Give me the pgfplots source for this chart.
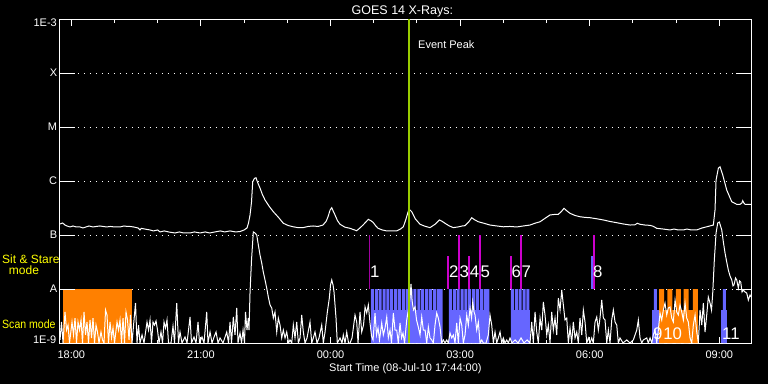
\documentclass[border=0pt]{standalone}
\usepackage{pgfplots}
\pgfplotsset{compat=1.18}
\usepackage{fontspec}
\setmainfont{Liberation Sans}
\definecolor{scanblue}{RGB}{102,102,255}
\definecolor{stareorange}{RGB}{255,128,0}
\definecolor{evmag}{RGB}{204,0,204}
\definecolor{evpurp}{RGB}{160,0,160}
\definecolor{peakgreen}{RGB}{153,204,0}
\definecolor{labyellow}{RGB}{255,255,0}
\newcommand{\tfont}{\fontsize{11}{13}\selectfont}
\newcommand{\nfont}{\fontsize{16.8}{18}\selectfont}
\begin{document}
\begin{tikzpicture}
\fill[black] (0,0) rectangle (768pt,384pt);
\begin{axis}[
  at={(59.8pt,41pt)}, anchor=south west,
  scale only axis, width=691.2pt, height=324pt,
  xmin=-6.2667, xmax=9.733,
  ymode=log, ymin=1e-9, ymax=1e-3,
  log origin y=infty,
  axis line style={white, line width=1pt},
  tick style={white, line width=1pt},
  major tick length=6.5pt, minor tick length=3.5pt,
  ytick style={draw=none},
  xtick={-6,-3,0,3,6,9},
  xticklabels={18:00,21:00,00:00,03:00,06:00,09:00},
  minor xtick={-5,-4,-2,-1,1,2,4,5,7,8},
  ytick={1e-8,1e-7,1e-6,1e-5,1e-4},
  yticklabels={{A\hspace{10pt}},{B\hspace{10pt}},{C\hspace{10pt}},{M\hspace{10pt}},{X\hspace{10pt}}},
  yminorticks=false,
  ymajorgrids=true,
  major grid style={white, line width=1pt, dash pattern=on 1pt off 5pt},
  xticklabel style={font=\tfont, text=white, inner sep=0pt, anchor=north, yshift=-8pt},
  yticklabel style={font=\tfont, text=white, inner sep=0pt, anchor=east, xshift=-2.5pt},
  title={GOES 14 X-Rays:},
  title style={at={(0.5,1)}, anchor=base, yshift=-1pt, xshift=-3pt, inner sep=0pt, font=\fontsize{12.5}{14}\selectfont, text=white},
  xlabel={Start Time (08-Jul-10 17:44:00)},
  xlabel style={at={(0.5,0)}, anchor=north, yshift=-20.3pt, inner sep=0pt, font=\tfont, text=white},
]
% ---- Sit & Stare (orange) and scan (blue) blocks ----
\addplot[fill=stareorange, draw=none] coordinates {(-6.199,1e-9) (-6.199,1e-8) (-4.588,1e-8) (-4.588,1e-9)} -- cycle;
\addplot[fill=scanblue, draw=none] coordinates {(0.949,1e-9) (0.949,4.08e-9) (2.581,4.08e-9) (2.581,1e-9)} -- cycle;
\addplot[fill=scanblue, draw=none] coordinates {(2.743,1e-9) (2.743,4.08e-9) (3.669,4.08e-9) (3.669,1e-9)} -- cycle;
\addplot[fill=scanblue, draw=none] coordinates {(4.178,1e-9) (4.178,4.08e-9) (4.618,4.08e-9) (4.618,1e-9)} -- cycle;
\addplot[fill=scanblue, draw=none] coordinates {(7.435,1e-9) (7.435,4.08e-9) (7.604,4.08e-9) (7.604,1e-9)} -- cycle;
\addplot[fill=stareorange, draw=none] coordinates {(7.604,1e-9) (7.604,4.08e-9) (8.500,4.08e-9) (8.500,1e-9)} -- cycle;
\addplot[fill=scanblue, draw=none] coordinates {(9.032,1e-9) (9.032,4.08e-9) (9.185,4.08e-9) (9.185,1e-9)} -- cycle;
% teeth
\addplot[ybar, bar shift=0pt, bar width=3pt, fill=scanblue, draw=none] coordinates {
(0.970,1e-8) (1.059,1e-8) (1.149,1e-8) (1.238,1e-8) (1.328,1e-8) (1.417,1e-8) (1.507,1e-8) (1.596,1e-8) (1.686,1e-8) (1.775,1e-8)
(1.865,1e-8) (1.954,1e-8) (2.044,1e-8) (2.133,1e-8) (2.223,1e-8) (2.312,1e-8) (2.402,1e-8) (2.491,1e-8) (2.560,1e-8)
(2.775,1e-8) (2.865,1e-8) (2.954,1e-8) (3.044,1e-8) (3.133,1e-8) (3.222,1e-8) (3.312,1e-8) (3.401,1e-8) (3.491,1e-8) (3.580,1e-8) (3.640,1e-8)
(4.211,1e-8) (4.300,1e-8) (4.390,1e-8) (4.479,1e-8) (4.569,1e-8)
(7.520,1e-8) (9.117,1e-8)};
\addplot[ybar, bar shift=0pt, bar width=5pt, fill=stareorange, draw=none] coordinates {
(7.662,1e-8) (7.854,1e-8) (8.049,1e-8) (8.234,1e-8) (8.446,1e-8)};
% ---- short channel ----
\addplot[white, line width=1pt] coordinates {
(-6.262,1.14e-9) (-6.227,2.45e-9) (-6.192,1e-9) (-6.146,3.75e-9) (-6.111,1.74e-9) (-6.076,2.15e-9) (-6.042,1e-9)
(-5.984,2.45e-9) (-5.949,1.41e-9) (-5.914,2.90e-9) (-5.880,1e-9) (-5.845,2.45e-9) (-5.810,1.74e-9) (-5.775,2.67e-9)
(-5.741,1e-9) (-5.706,3.75e-9) (-5.671,1.41e-9) (-5.637,2.45e-9) (-5.602,1e-9) (-5.567,2.67e-9) (-5.532,1.24e-9)
(-5.498,2.90e-9) (-5.463,1e-9) (-5.428,2.15e-9) (-5.394,1.60e-9) (-5.359,1e-9) (-5.313,1.60e-9) (-5.278,1.14e-9)
(-5.243,1e-9) (-5.208,4.08e-9) (-5.174,3.30e-9) (-5.139,1e-9) (-5.104,2.45e-9) (-5.069,1.24e-9) (-5.035,1.90e-9)
(-5.000,1e-9) (-4.942,2.45e-9) (-4.907,1.74e-9) (-4.873,2.67e-9) (-4.838,1e-9) (-4.803,2.90e-9) (-4.769,1e-9)
(-4.734,3.75e-9) (-4.699,2.67e-9) (-4.664,1.14e-9) (-4.630,3.30e-9) (-4.595,1e-9)
(-4.549,2.67e-9) (-4.514,5.50e-9) (-4.479,1e-9) (-4.444,2.15e-9) (-4.410,1e-9) (-4.363,1.41e-9) (-4.317,1e-9)
(-4.248,2.45e-9) (-4.213,1.74e-9) (-4.178,2.67e-9) (-4.144,1e-9) (-4.109,2.45e-9) (-4.074,2.15e-9) (-4.039,2.56e-9)
(-4.005,1.74e-9) (-3.970,1e-9) (-3.924,1.60e-9) (-3.889,1e-9) (-3.854,2.45e-9) (-3.819,1.90e-9) (-3.785,2.67e-9)
(-3.750,1e-9) (-3.692,1e-9) (-3.646,2.06e-9) (-3.611,1e-9) (-3.560,5.50e-9) (-3.519,1e-9) (-3.484,1.60e-9)
(-3.438,1e-9) (-3.368,1.29e-9) (-3.322,1e-9) (-3.252,3.03e-9) (-3.218,1e-9) (-3.160,1.29e-9) (-3.113,1e-9)
(-3.067,2.45e-9) (-3.032,1e-9) (-2.975,1.29e-9) (-2.928,1e-9) (-2.866,3.75e-9) (-2.836,1e-9) (-2.789,1.60e-9)
(-2.743,1e-9) (-2.697,1.29e-9) (-2.650,1.60e-9) (-2.604,1e-9) (-2.558,1.24e-9) (-2.488,1e-9) (-2.403,1.60e-9)
(-2.361,1e-9) (-2.326,2.45e-9) (-2.292,1e-9) (-2.250,3.03e-9) (-2.211,1.41e-9) (-2.171,4.45e-9) (-2.141,1e-9)
(-2.095,1.53e-9)
(-2.060,1e-9) (-2.025,1.74e-9) (-1.991,1e-9) (-1.968,3.75e-9) (-1.933,1.74e-9) (-1.903,2.90e-9) (-1.887,1.74e-9)
(-1.863,8.8e-9) (-1.829,3.44e-8) (-1.787,1.14e-7) (-1.748,1.09e-7) (-1.708,1.0e-7) (-1.671,6.53e-8) (-1.632,4.26e-8)
(-1.593,3.03e-8) (-1.556,2.06e-8) (-1.516,1.47e-8) (-1.477,1.04e-8) (-1.440,7.11e-9) (-1.400,5.06e-9) (-1.361,4.45e-9)
(-1.324,2.90e-9) (-1.285,3.75e-9) (-1.245,1.60e-9) (-1.208,2.90e-9) (-1.169,2.15e-9) (-1.130,1.24e-9) (-1.093,1.74e-9)
(-1.053,1.24e-9) (-1.014,1.60e-9) (-0.972,1e-9) (-0.938,1.14e-9) (-0.898,1e-9) (-0.861,2.15e-9) (-0.822,1.24e-9)
(-0.782,2.45e-9) (-0.745,1e-9) (-0.706,1.24e-9) (-0.667,3.30e-9) (-0.630,1.60e-9) (-0.590,1e-9) (-0.544,1.24e-9)
(-0.475,2.45e-9) (-0.435,1e-9) (-0.398,1.24e-9) (-0.359,1.60e-9) (-0.313,1e-9) (-0.266,1.24e-9) (-0.204,2.15e-9)
(-0.167,1e-9) (-0.127,1.60e-9) (-0.074,3.75e-9) (-0.028,6.8e-9) (0.000,1.19e-8) (0.028,1.47e-8) (0.058,1.19e-8)
(0.081,8.8e-9) (0.104,5.06e-9) (0.127,2.90e-9) (0.157,1e-9) (0.220,1.24e-9) (0.266,1e-9) (0.296,1.41e-9)
(0.336,1e-9) (0.375,1.60e-9) (0.417,1e-9) (0.451,1e-9) (0.498,1.24e-9) (0.567,3.30e-9) (0.606,2.45e-9)
(0.637,1e-9) (0.683,3.75e-9) (0.722,1.60e-9) (0.764,2.15e-9) (0.799,4.64e-9) (0.838,3.59e-9) (0.875,5.06e-9)
(0.914,2.35e-9)
(0.949,1.35e-9) (0.984,1.14e-9) (1.030,3.59e-9) (1.065,1.41e-9) (1.100,1.90e-9) (1.134,1.14e-9) (1.185,2.35e-9)
(1.222,1.41e-9) (1.262,1.90e-9) (1.301,3.03e-9) (1.338,1.24e-9) (1.377,1.74e-9) (1.412,1e-9) (1.454,3.59e-9)
(1.493,1.74e-9) (1.532,1.74e-9) (1.569,1e-9) (1.609,2.35e-9) (1.644,1.24e-9) (1.678,1.53e-9) (1.713,1e-9)
(1.764,2.67e-9) (1.801,4.08e-9) (1.840,6.8e-9) (1.863,1.24e-8) (1.887,6.25e-9) (1.917,4.08e-9) (1.956,4.64e-9)
(1.991,2.67e-9) (2.032,1.98e-9) (2.072,1.41e-9) (2.111,3.03e-9) (2.148,1.74e-9) (2.188,1.74e-9) (2.227,1e-9)
(2.264,1.98e-9) (2.303,1.24e-9) (2.343,1.14e-9) (2.380,1e-9) (2.419,2.15e-9) (2.458,3.59e-9) (2.495,2.90e-9)
(2.535,1.98e-9) (2.574,1e-9)
(2.611,1.14e-9) (2.650,1e-9) (2.690,1.14e-9) (2.727,1e-9) (2.766,1.53e-9) (2.806,1.24e-9) (2.843,1.41e-9)
(2.882,1e-9) (2.921,2.35e-9) (2.958,1e-9) (2.998,2.90e-9) (3.037,2.15e-9) (3.074,1e-9) (3.113,1.41e-9)
(3.153,3.30e-9) (3.190,2.15e-9) (3.229,4.45e-9) (3.264,2.90e-9) (3.292,5.76e-9) (3.322,3.75e-9) (3.345,3.30e-9)
(3.384,1.74e-9) (3.421,2.45e-9) (3.461,1e-9) (3.500,1.14e-9) (3.537,1e-9) (3.600,1e-9) (3.653,1.41e-9)
(3.692,3.30e-9) (3.731,2.15e-9) (3.769,1e-9) (3.808,1.60e-9) (3.847,1e-9) (3.884,1.24e-9) (3.924,1.60e-9)
(3.963,1e-9) (4.000,1.24e-9) (4.039,1e-9) (4.079,1.14e-9) (4.116,1e-9) (4.155,1.24e-9) (4.201,1e-9)
(4.271,1.14e-9) (4.340,1e-9) (4.410,1.24e-9) (4.479,1e-9) (4.549,1.14e-9) (4.618,1e-9)
(4.657,2.45e-9) (4.694,1e-9) (4.734,3.75e-9) (4.773,1.60e-9) (4.810,1e-9) (4.850,2.90e-9) (4.889,1.74e-9)
(4.926,5.76e-9) (4.965,3.30e-9) (5.005,1.41e-9) (5.042,2.15e-9) (5.081,1e-9) (5.120,3.75e-9) (5.157,1.74e-9)
(5.197,2.90e-9) (5.236,1.41e-9) (5.273,6.8e-9) (5.313,4.08e-9) (5.352,9.58e-9) (5.389,5.06e-9) (5.428,2.67e-9)
(5.468,2.90e-9) (5.505,1e-9) (5.544,1.90e-9) (5.583,1e-9) (5.620,2.45e-9) (5.660,1.24e-9) (5.699,1.60e-9)
(5.736,1e-9) (5.775,2.90e-9) (5.815,1.41e-9) (5.852,4.08e-9) (5.891,2.45e-9) (5.931,1e-9) (5.968,1.24e-9)
(6.007,1e-9) (6.046,1.24e-9) (6.083,1e-9) (6.123,2.45e-9) (6.162,3.03e-9) (6.199,1.74e-9) (6.238,2.90e-9)
(6.278,6.25e-9) (6.315,2.90e-9) (6.354,2.67e-9) (6.394,1e-9) (6.431,1.74e-9) (6.470,1e-9) (6.509,2.67e-9)
(6.546,4.08e-9) (6.586,2.45e-9) (6.625,2.15e-9) (6.662,1e-9) (6.701,1.24e-9) (6.771,1e-9) (6.856,1.14e-9)
(6.933,1e-9) (7.009,1.14e-9) (7.088,1.74e-9) (7.125,2.67e-9) (7.164,1.24e-9) (7.204,1e-9) (7.241,1.14e-9)
(7.319,1.24e-9) (7.356,1e-9) (7.396,1.24e-9) (7.435,1e-9) (7.472,1.41e-9) (7.512,1.74e-9) (7.551,1e-9)
(7.588,1.74e-9) (7.627,3.59e-9) (7.667,2.67e-9) (7.704,4.08e-9) (7.743,5.50e-9) (7.782,3.30e-9) (7.819,4.45e-9)
(7.859,4.64e-9) (7.898,2.90e-9) (7.935,2.45e-9) (7.975,6.25e-9) (8.014,3.75e-9) (8.051,3.30e-9) (8.090,5.06e-9)
(8.130,3.75e-9) (8.167,2.67e-9) (8.206,5.50e-9) (8.245,2.90e-9) (8.282,2.45e-9) (8.322,1.24e-9) (8.361,1e-9)
(8.398,2.15e-9) (8.438,3.30e-9) (8.477,1.60e-9) (8.514,1e-9) (8.553,4.08e-9) (8.593,2.15e-9) (8.630,5.50e-9)
(8.669,1.60e-9) (8.708,3.30e-9) (8.745,7.11e-9) (8.785,5.50e-9) (8.819,4.08e-9) (8.847,8.43e-9) (8.884,3.44e-8)
(8.924,1.09e-7) (8.963,1.67e-7) (9.000,1.74e-7) (9.056,1.24e-7) (9.093,7.42e-8) (9.132,4.64e-8) (9.171,3.16e-8)
(9.208,2.25e-8) (9.248,1.74e-8) (9.287,1.47e-8) (9.317,1.14e-8) (9.340,1.19e-8) (9.375,1.60e-8) (9.403,1.47e-8)
(9.440,1.04e-8) (9.468,1.41e-8) (9.495,1.35e-8) (9.525,8.8e-9) (9.556,9.58e-9) (9.595,8.8e-9) (9.634,8.43e-9)
(9.671,6.25e-9) (9.711,7.74e-9) (9.734,7.11e-9)};
% ---- long channel ----
\addplot[white, line width=1pt] coordinates {
(-6.262,1.60e-7) (-6.200,1.67e-7) (-6.146,1.53e-7) (-6.100,1.47e-7) (-6.030,1.41e-7) (-5.960,1.47e-7) (-5.890,1.41e-7)
(-5.799,1.41e-7) (-5.730,1.35e-7) (-5.660,1.41e-7) (-5.590,1.47e-7) (-5.498,1.41e-7) (-5.420,1.44e-7) (-5.340,1.47e-7)
(-5.266,1.44e-7) (-5.180,1.41e-7) (-5.100,1.44e-7) (-5.000,1.41e-7) (-4.873,1.41e-7) (-4.780,1.47e-7) (-4.700,1.44e-7)
(-4.641,1.44e-7) (-4.560,1.41e-7) (-4.456,1.35e-7) (-4.410,1.24e-7) (-4.380,1.33e-7) (-4.300,1.29e-7) (-4.178,1.24e-7)
(-4.100,1.19e-7) (-4.000,1.24e-7) (-3.947,1.14e-7) (-3.850,1.19e-7) (-3.750,1.14e-7) (-3.600,1.09e-7) (-3.500,1.14e-7)
(-3.400,1.09e-7) (-3.252,1.09e-7) (-3.150,1.14e-7) (-3.021,1.09e-7) (-2.900,1.14e-7) (-2.800,1.09e-7) (-2.674,1.14e-7)
(-2.550,1.19e-7) (-2.450,1.14e-7) (-2.326,1.19e-7) (-2.200,1.14e-7) (-2.095,1.16e-7) (-2.000,1.24e-7) (-1.933,1.35e-7)
(-1.900,1.65e-7) (-1.863,2.35e-7) (-1.830,4.0e-7) (-1.801,9.7e-7) (-1.760,1.12e-6) (-1.725,1.15e-6) (-1.690,9.5e-7)
(-1.632,7.4e-7) (-1.580,5.7e-7) (-1.516,4.45e-7) (-1.420,3.4e-7) (-1.324,2.7e-7) (-1.200,2.1e-7) (-1.093,1.65e-7)
(-0.980,1.5e-7) (-0.862,1.42e-7) (-0.750,1.37e-7) (-0.637,1.37e-7) (-0.520,1.44e-7) (-0.405,1.47e-7) (-0.290,1.44e-7)
(-0.174,1.53e-7) (-0.100,1.8e-7) (-0.058,2.18e-7) (-0.010,2.9e-7) (0.028,3.2e-7) (0.060,2.8e-7) (0.104,2.35e-7)
(0.160,1.85e-7) (0.220,1.58e-7) (0.330,1.40e-7) (0.451,1.33e-7) (0.606,1.20e-7) (0.680,1.35e-7) (0.752,1.53e-7)
(0.820,1.75e-7) (0.875,1.95e-7) (0.930,1.85e-7) (0.984,1.72e-7) (1.040,1.50e-7) (1.100,1.33e-7) (1.200,1.24e-7)
(1.301,1.19e-7) (1.420,1.19e-7) (1.532,1.19e-7) (1.620,1.29e-7) (1.685,1.42e-7) (1.740,1.9e-7) (1.801,2.78e-7)
(1.840,2.9e-7) (1.880,2.7e-7) (1.960,2.0e-7) (2.072,1.58e-7) (2.190,1.45e-7) (2.303,1.37e-7) (2.419,1.58e-7)
(2.519,1.90e-7) (2.580,1.80e-7) (2.650,1.65e-7) (2.750,1.47e-7) (2.843,1.37e-7) (2.950,1.41e-7) (3.050,1.47e-7)
(3.113,1.49e-7) (3.200,1.75e-7) (3.269,2.09e-7) (3.340,1.90e-7) (3.422,1.76e-7) (3.550,1.65e-7) (3.692,1.53e-7)
(3.850,1.47e-7) (4.000,1.42e-7) (4.150,1.44e-7) (4.310,1.41e-7) (4.460,1.47e-7) (4.618,1.53e-7) (4.730,1.65e-7)
(4.850,1.76e-7) (4.970,2.05e-7) (5.081,2.35e-7) (5.180,2.40e-7) (5.273,2.42e-7) (5.340,2.7e-7) (5.405,3.12e-7)
(5.470,2.8e-7) (5.544,2.52e-7) (5.660,2.3e-7) (5.775,2.18e-7) (5.890,2.12e-7) (6.007,2.09e-7) (6.160,2.0e-7)
(6.315,1.90e-7) (6.470,1.78e-7) (6.625,1.69e-7) (6.780,1.60e-7) (6.933,1.53e-7) (7.050,1.55e-7) (7.100,1.65e-7)
(7.164,1.58e-7) (7.280,1.53e-7) (7.396,1.51e-7) (7.470,1.45e-7) (7.551,1.33e-7) (7.700,1.29e-7) (7.859,1.24e-7)
(7.950,1.29e-7) (8.050,1.24e-7) (8.167,1.24e-7) (8.250,1.29e-7) (8.350,1.24e-7) (8.477,1.24e-7) (8.600,1.35e-7)
(8.708,1.42e-7) (8.861,1.53e-7) (8.900,2.90e-7) (8.924,1.04e-6) (8.977,1.72e-6) (9.016,1.84e-6) (9.079,1.29e-6)
(9.171,6.8e-7) (9.287,4.14e-7) (9.403,3.7e-7) (9.479,3.7e-7) (9.520,3.9e-7) (9.542,4.33e-7) (9.570,3.9e-7)
(9.595,3.7e-7) (9.734,3.7e-7)};
% ---- event lines ----
\addplot[evpurp, line width=1pt] coordinates {(0.891,1e-8) (0.891,1e-7)};
\addplot[evmag, line width=2pt] coordinates {(2.727,1e-8) (2.727,4.08e-8)};
\addplot[evmag, line width=2pt] coordinates {(2.975,1e-8) (2.975,1e-7)};
\addplot[evmag, line width=2pt] coordinates {(3.206,1e-8) (3.206,4.08e-8)};
\addplot[evmag, line width=2pt] coordinates {(3.461,1e-8) (3.461,1e-7)};
\addplot[evmag, line width=2pt] coordinates {(4.171,1e-8) (4.171,4.08e-8)};
\addplot[evmag, line width=2pt] coordinates {(4.403,1e-8) (4.403,1e-7)};
\addplot[scanblue, line width=2pt] coordinates {(6.060,1e-8) (6.060,4.08e-8)};
\addplot[evmag, line width=2pt] coordinates {(6.100,1e-8) (6.100,1e-7)};
% ---- event peak ----
\addplot[peakgreen, line width=2.5pt] coordinates {(1.822,1e-9) (1.822,1e-3)};
% ---- y tick marks (15 px, inward, both sides) ----
\pgfplotsinvokeforeach{1e-8,1e-7,1e-6,1e-5,1e-4}{
  \draw[white, line width=1pt] (axis cs:-6.2667,#1) -- ++(15pt,0pt);
  \draw[white, line width=1pt] (axis cs:9.733,#1) -- ++(-15pt,0pt);
}
% ---- labels ----
\node[anchor=base west, inner sep=0pt, text=white, font=\fontsize{11}{13}\selectfont] at (axis cs:2.025,2.9e-4) {Event Peak};
\node[anchor=base west, inner sep=0pt, text=white, font=\nfont] at (axis cs:0.914,1.6e-8) {1};
\node[anchor=base west, inner sep=0pt, text=white, font=\nfont] at (axis cs:2.743,1.6e-8) {2};
\node[anchor=base west, inner sep=0pt, text=white, font=\nfont] at (axis cs:2.986,1.6e-8) {3};
\node[anchor=base west, inner sep=0pt, text=white, font=\nfont] at (axis cs:3.218,1.6e-8) {4};
\node[anchor=base west, inner sep=0pt, text=white, font=\nfont] at (axis cs:3.472,1.6e-8) {5};
\node[anchor=base west, inner sep=0pt, text=white, font=\nfont] at (axis cs:4.190,1.6e-8) {6};
\node[anchor=base west, inner sep=0pt, text=white, font=\nfont] at (axis cs:4.421,1.6e-8) {7};
\node[anchor=base west, inner sep=0pt, text=white, font=\nfont] at (axis cs:6.076,1.6e-8) {8};
\node[anchor=base west, inner sep=0pt, text=white, font=\nfont] at (axis cs:7.465,1.16e-9) {9};
\node[anchor=base west, inner sep=0pt, text=white, font=\nfont] at (axis cs:7.697,1.16e-9) {10};
\node[anchor=base west, inner sep=0pt, text=white, font=\nfont] at (axis cs:9.062,1.16e-9) {11};
\end{axis}
\node[anchor=base west, inner sep=0pt, text=labyellow, font=\fontsize{12}{14}\selectfont] at (2pt,120.7pt) {Sit \& Stare};
\node[anchor=base, inner sep=0pt, text=labyellow, font=\fontsize{12}{14}\selectfont] at (24pt,110pt) {mode};
\node[anchor=base west, inner sep=0pt, text=labyellow, font=\fontsize{12}{14}\selectfont] at (2pt,55.7pt) {\scalebox{0.88}[1]{Scan mode}};
\node[anchor=base east, inner sep=0pt, text=white, font=\tfont] at (57pt,357.3pt) {1E-3};
\node[anchor=base east, inner sep=0pt, text=white, font=\tfont] at (56.5pt,40.7pt) {1E-9};
\pgfresetboundingbox
\useasboundingbox (0,0) rectangle (768pt,384pt);
\end{tikzpicture}
\end{document}
